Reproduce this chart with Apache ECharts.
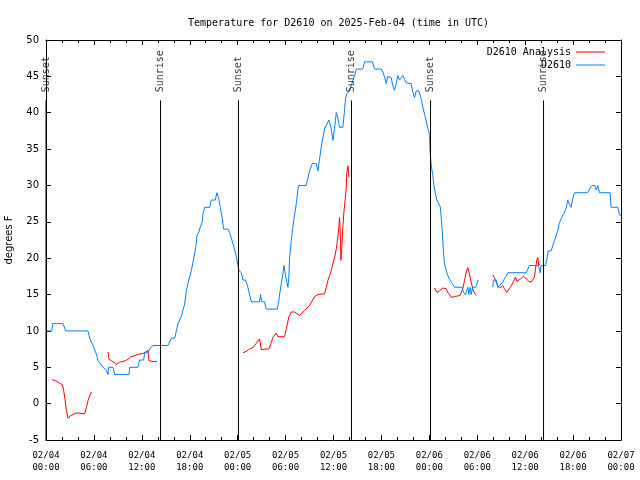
<!DOCTYPE html>
<html><head><meta charset="utf-8">
<script src="https://cdn.jsdelivr.net/npm/echarts@6/dist/echarts.min.js"></script>
<style>html,body{margin:0;padding:0;background:#fff}#c{width:640px;height:480px}</style>
</head><body><div id="c"></div>
<script>
// x values are hours since 2025-02-04 00:00 UTC
const xTickLabels = ["02/04\n00:00","02/04\n06:00","02/04\n12:00","02/04\n18:00","02/05\n00:00","02/05\n06:00","02/05\n12:00","02/05\n18:00","02/06\n00:00","02/06\n06:00","02/06\n12:00","02/06\n18:00","02/07\n00:00"];
const eventTimes = [0.0, 14.34, 24.1, 38.25, 48.15, 62.3];
const eventNames = ["Sunset","Sunrise","Sunset","Sunrise","Sunset","Sunrise"];

const obsTime = [
0,0.71,0.84,2.13,2.47,5.26,5.47,5.88,6.31,6.51,
7.13,7.56,7.76,7.85,8.39,8.60,10.39,10.48,11.51,11.73,
12.23,12.36,12.77,12.98,13.39,15.27,15.69,16.11,16.32,16.52,
16.95,17.36,17.57,17.77,17.98,18.20,18.40,18.61,18.82,18.90,
19.15,19.32,19.57,19.65,19.86,20.49,20.70,21.20,21.40,21.61,
21.83,22.08,22.24,22.78,22.99,23.20,23.40,23.62,23.83,24.03,
24.16,24.46,24.66,24.99,25.28,25.49,25.71,26.74,26.87,26.99,
27.37,27.58,28.96,29.16,29.25,29.46,29.66,29.79,30.00,30.29,
30.41,30.50,30.71,30.91,31.13,31.34,31.54,31.66,32.59,32.79,
33.00,33.34,33.84,34.04,34.26,34.47,34.67,34.88,35.09,35.42,
35.59,35.72,35.92,36.13,36.35,36.55,36.76,37.17,37.38,37.51,
37.67,38.01,38.22,38.42,38.64,38.85,39.67,39.89,40.85,41.14,
41.98,42.18,42.39,42.60,42.80,43.02,43.23,43.43,43.64,43.85,
44.06,44.27,44.48,44.68,44.89,45.11,45.73,45.93,46.15,46.36,
46.68,46.98,47.18,47.40,47.61,47.81,47.93,48.02,48.11,48.24,
48.44,48.52,48.65,48.77,48.94,49.19,49.36,49.49,49.61,49.69,
49.77,49.90,50.11,50.31,50.53,50.74,50.94,51.15,52.11,52.28,
52.53,52.82,52.94,53.12,53.24,53.44,53.78,53.94,54.12,55.0,
55.94,56.03,56.37,56.57,56.78,57.20,57.41,57.62,57.82,60.13,
60.33,60.54,61.58,61.79,61.88,62.00,62.54,62.70,62.88,63.25,
63.45,63.67,63.88,64.08,64.29,64.50,64.71,64.92,65.13,65.33,
65.54,65.75,65.92,66.17,67.83,68.05,68.39,68.67,68.89,69.09,
69.30,70.64,70.76,71.59,71.80,71.93];
const obsTemp = [
10,10,11,11,10,10,9,8,6.8,5.9,
5,4.6,4,5,5,4,4,5,5,6,
6,7,7,7.5,8,8,9,9,10,11,
12,13.7,15.5,16.5,17.4,18.3,19.4,20.6,22,23.1,
23.6,24.3,25,26,27,27,28,28,29,28.3,
27,25.4,24,24,23.5,22.8,22,21.2,20.2,19,
18.3,18,17,17,16,15,14,14,15,14,
14,13,13,14.2,15,16.5,17.8,19,17.6,16,
17.4,20,22.4,24.3,26,27.5,29.4,30,30,31,
32,33,33,32,33.7,35.3,36.6,37.8,38,39,
39,37.8,36.2,37.8,40,39.2,38,38,40.3,42,
42.6,43.1,43.3,44.4,45.1,46,46,47,47,46,
46,45.6,44.9,44,45,45.1,44.8,43.7,43.1,44,
45.1,44.5,44.8,45.1,44.6,44.1,44,42.8,42.1,43,
43,41.9,40.8,39.8,38.9,37.8,37.5,36.9,34.3,32.7,
31.4,30.4,29.5,28.8,28,28,27.1,25.6,23.8,22.4,
20.8,19.2,18.3,17.6,17.1,16.7,16.4,16,16,15.3,
15,16,15,16,15,16,16,16.4,17,null,
16,17,17,16,16,16.7,17.2,17.5,18,18,
18.5,19,19,18.5,18,19,19,19.7,21,21,
21.7,22.4,23.1,23.8,24.9,25,25.9,26.3,26.9,28,
27.4,27,28,29,29,29.5,30,30,29.4,30,
29,29,27,27,26.1,25.8];

const analysisTime = [
0.75,1.30,1.71,2.05,2.21,2.34,2.55,2.75,3.05,3.38,3.72,4.13,4.31,4.84,5.06,5.26,5.47,5.68,
6.7,
7.76,7.88,8.19,8.47,8.81,9.01,9.22,9.44,9.97,10.26,10.56,11.10,11.31,11.64,12.14,12.47,12.77,12.89,13.39,13.89,
19.0,
24.66,25.08,25.49,25.91,26.33,26.75,26.96,27.37,27.91,28.21,28.41,28.84,29.04,29.87,30.09,30.41,30.71,31.13,31.75,31.96,
32.38,33.00,33.63,34.04,34.88,35.09,35.29,35.51,35.72,35.92,36.13,36.35,36.55,36.67,36.76,36.88,36.92,37.05,37.17,37.30,
37.47,37.60,37.67,37.80,37.89,37.92,
43.0,
48.65,48.94,49.27,49.69,49.90,50.11,50.31,50.53,50.74,51.15,51.87,52.19,52.40,52.62,52.82,53.03,53.24,53.44,53.65,53.87,
55.0,
55.94,56.16,56.37,56.57,56.78,56.99,57.20,57.41,57.70,57.95,58.25,58.54,58.79,58.95,59.20,59.50,59.79,60.13,60.45,60.75,
60.95,61.16,61.29,61.45,61.58,61.70,61.82];
const analysisTemp = [
3.3,3.1,2.8,2.6,1.8,0.9,-0.9,-2.0,-1.7,-1.5,-1.3,-1.3,-1.4,-1.4,-0.5,0.4,1.1,1.6,
null,
7.1,6.1,5.9,5.7,5.4,5.4,5.7,5.8,5.9,6.1,6.4,6.6,6.7,6.8,6.9,7.1,7.3,5.9,5.8,5.8,
null,
7.0,7.2,7.5,7.7,8.3,8.9,7.4,7.5,7.5,8.4,9.1,9.7,9.2,9.2,10.3,11.9,12.6,12.6,12.1,12.3,
12.8,13.5,14.7,15.0,15.1,16,16.9,17.6,18.3,19.2,20.1,21.3,22.9,24.3,25.6,22.7,19.7,21.5,24.3,26.3,
28.2,29.8,31.8,32.7,31.8,31.1,
null,
15.9,15.3,15.5,15.9,16.0,15.8,15.3,15.0,14.6,14.7,14.9,15.8,16.9,18.1,18.7,17.8,16.7,15.8,15.2,14.9,
null,
17.7,17.3,16.7,16.2,15.9,15.9,16.2,15.8,15.3,15.5,16.2,16.8,17.4,16.8,16.9,17.2,17.5,17.2,16.8,16.7,
16.5,17.4,18.5,19.7,20.1,19.0,19.2];

const pairs = (ts, vs) => ts.map((t, i) => [t, (vs[i] === null || vs[i] === undefined) ? '-' : vs[i]]);
const MONO = '"DejaVu Sans Mono", "Liberation Mono", monospace';
const SANS = '"DejaVu Sans", "Liberation Sans", sans-serif';

const series = [
  {name: 'D2610 Analysis', type: 'line', data: pairs(analysisTime, analysisTemp), symbol: 'none', showSymbol: false,
   connectNulls: false, lineStyle: {color: '#ff0000', width: 1}, itemStyle: {color: '#ff0000'}, animation: false, z: 2},
  {name: 'D2610', type: 'line', data: pairs(obsTime, obsTemp), symbol: 'none', showSymbol: false,
   connectNulls: false, lineStyle: {color: '#0080ff', width: 1}, itemStyle: {color: '#0080ff'}, animation: false, z: 3}
];
eventTimes.forEach((t) => {
  series.push({type: 'line', data: [[t, -5], [t, 41.7]], symbol: 'none', silent: true, animation: false,
    lineStyle: {color: '#000', width: 1}, z: 4});
});
series.push({type: 'scatter', data: eventTimes.map((t, i) => [t, 42.8, eventNames[i]]), symbolSize: 1,
  itemStyle: {color: 'rgba(0,0,0,0)'}, silent: true, animation: false, clip: false, z: 5,
  label: {show: true, formatter: p => p.data[2], position: 'inside', rotate: 90, align: 'left', verticalAlign: 'middle',
    fontFamily: MONO, fontSize: 10, color: '#000'}});

const axisLineStyle = {show: true, onZero: false, lineStyle: {color: '#000', width: 1}};
const chart = echarts.init(document.getElementById('c'), null, {renderer: 'canvas'});
chart.setOption({
  animation: false,
  backgroundColor: '#fff',
  title: {text: 'Temperature for D2610 on 2025-Feb-04 (time in UTC)', left: 183, top: 13,
    textStyle: {fontFamily: MONO, fontSize: 10, fontWeight: 'normal', color: '#000'}},
  legend: {data: [{name: 'D2610 Analysis', icon: 'rect'}, {name: 'D2610', icon: 'rect'}], orient: 'vertical', align: 'right', right: 30, top: 42,
    itemWidth: 29, itemHeight: 1, itemGap: 3, textStyle: {fontFamily: MONO, fontSize: 10, color: '#000'}},
  grid: {left: 46, right: 19, top: 40, bottom: 40, containLabel: false, outerBoundsMode: 'none'},
  xAxis: [
    {type: 'value', min: 0, max: 72, interval: 6, position: 'bottom', axisLine: axisLineStyle,
     axisTick: {show: true, inside: true, length: 5, lineStyle: {color: '#000'}},
     minorTick: {show: true, splitNumber: 3, length: 3, lineStyle: {color: '#000'}},
     splitLine: {show: false},
     axisLabel: {formatter: v => xTickLabels[Math.round(v / 6)], fontFamily: MONO, fontSize: 9, color: '#000',
       lineHeight: 12, margin: 10, showMinLabel: true, showMaxLabel: true}},
    {type: 'value', min: 0, max: 72, interval: 6, position: 'top', axisLine: axisLineStyle,
     axisTick: {show: true, inside: true, length: 5, lineStyle: {color: '#000'}},
     minorTick: {show: true, splitNumber: 3, length: 3, lineStyle: {color: '#000'}},
     splitLine: {show: false}, axisLabel: {show: false}}
  ],
  yAxis: [
    {type: 'value', min: -5, max: 50, interval: 5, position: 'left', axisLine: axisLineStyle,
     axisTick: {show: true, inside: true, length: 5, lineStyle: {color: '#000'}},
     splitLine: {show: false},
     axisLabel: {fontFamily: SANS, fontSize: 10, color: '#000', margin: 7},
     name: 'degrees F', nameLocation: 'middle', nameRotate: 90, nameGap: 32,
     nameTextStyle: {fontFamily: SANS, fontSize: 10, color: '#000'}},
    {type: 'value', min: -5, max: 50, interval: 5, position: 'right', axisLine: axisLineStyle,
     axisTick: {show: true, inside: true, length: 5, lineStyle: {color: '#000'}},
     splitLine: {show: false}, axisLabel: {show: false}}
  ],
  series: series
});
</script></body></html>
